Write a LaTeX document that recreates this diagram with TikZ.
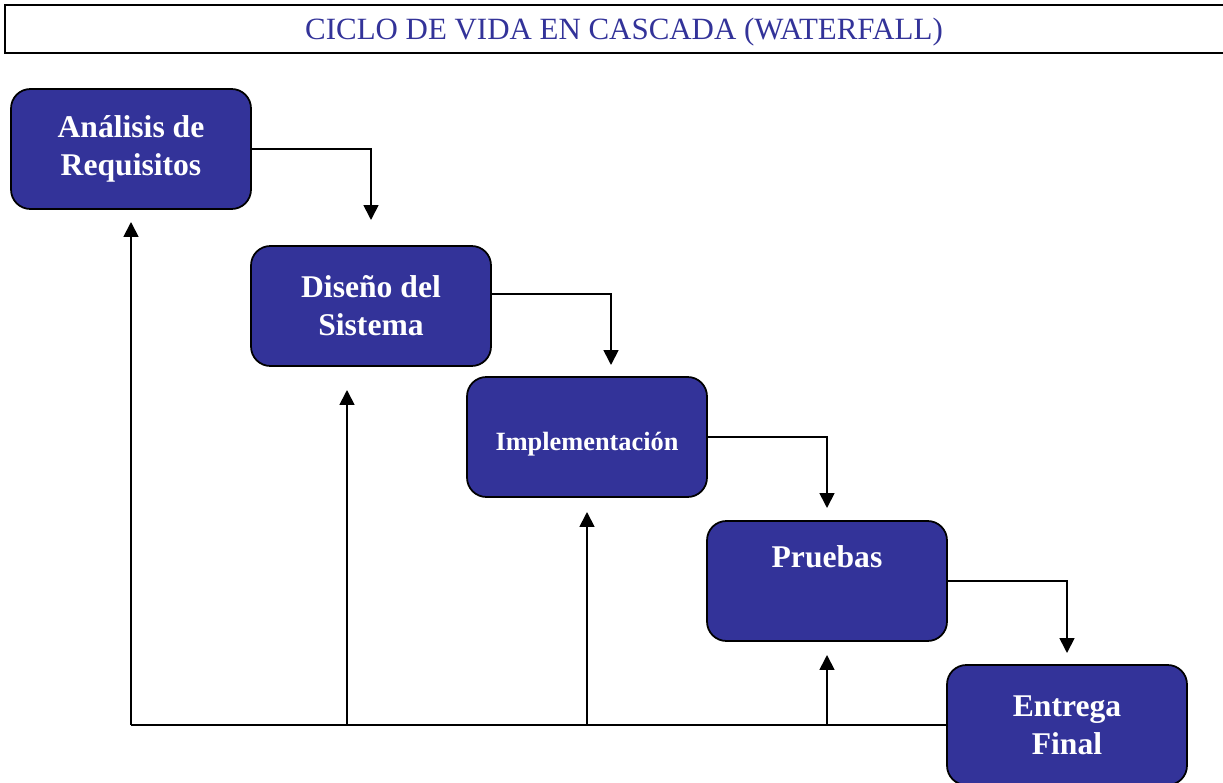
\documentclass[tikz,border=0pt]{standalone}
\usepackage{fontspec}
\setmainfont{Liberation Serif}
\usetikzlibrary{arrows.meta}
\definecolor{cascada}{HTML}{333399}
\tikzset{
  fase/.style={draw=black, line width=1pt, fill=cascada, rounded corners=11pt,
    minimum width=4.8cm, minimum height=2.4cm, text=white, align=center,
    font=\fontsize{18}{21.6}\selectfont\bfseries},
  linea/.style={line width=1pt},
  flecha/.style={line width=1pt, -{Triangle[width=8.5pt,length=8.5pt]}}
}
\begin{document}
\begin{tikzpicture}[x=0.02cm,y=-0.02cm]
  \useasboundingbox (0,0) rectangle (1223,783);
  % Titel
  \draw[line width=1.5pt] (5,5) rectangle (1235,53);
  \node[text=cascada, font=\fontsize{17.6}{21}\selectfont] (titulo) at (624,32)
    {CICLO DE VIDA EN CASCADA (WATERFALL)};
  % Fasen
  \node[fase] (ana) at (131,149) {Análisis de\\Requisitos};
  \node[fase] (dis) at (371,306) {Diseño del\\Sistema};
  \node[fase, font=\fontsize{15}{18}\selectfont\bfseries] (imp) at (587,437)
    {\raisebox{-7.8pt}[0pt][0pt]{Implementación}};
  \node[fase] (pru) at (827,581) {Pruebas\\\strut};
  \node[fase] (ent) at (1067,725) {Entrega\\Final};
  % Pfeilspitzen nach unten
  \coordinate (t1) at (371,220);
  \coordinate (t2) at (611,365);
  \coordinate (t3) at (827,508);
  \coordinate (t4) at (1067,653);
  % Kaskade
  \draw[flecha] (ana.east) -| (t1);
  \draw[flecha] ([yshift=6.8pt]dis.east) -| (t2);
  \draw[flecha] (imp.east) -| (t3);
  \draw[flecha] (pru.east) -| (t4);
  % Rückführung
  \coordinate (r1) at (131,725);
  \coordinate (r2) at (347,725);
  \coordinate (r3) at (587,725);
  \coordinate (r4) at (827,725);
  \coordinate (u1) at (131,222);
  \coordinate (u2) at (347,390);
  \coordinate (u3) at (587,512);
  \coordinate (u4) at (827,655);
  \draw[linea] (ent.west) -- (r1);
  \draw[flecha] (r1) -- (u1);
  \draw[flecha] (r2) -- (u2);
  \draw[flecha] (r3) -- (u3);
  \draw[flecha] (r4) -- (u4);
\end{tikzpicture}
\end{document}
